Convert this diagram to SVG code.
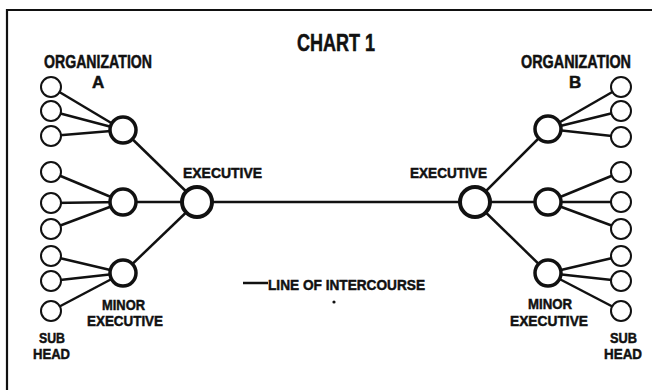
<svg xmlns="http://www.w3.org/2000/svg" width="663" height="390" viewBox="0 0 663 390">
<style>
.t{font-family:"Liberation Sans",Arial,sans-serif;font-weight:bold;fill:#111;stroke:#111;stroke-width:0.5}
.sub{fill:#fff;stroke:#111;stroke-width:2}
.min{fill:#fff;stroke:#111;stroke-width:3.5}
.exe{fill:#fff;stroke:#111;stroke-width:4}
.ln{stroke:#111;stroke-width:2.5;fill:none}
</style>
<rect width="663" height="390" fill="#fff"/>
<path d="M7 390 V10 H652" fill="none" stroke="#111" stroke-width="2.2"/>
<g id="connectors" class="ln">
<line x1="197" y1="202" x2="475" y2="202"/>
<line x1="197" y1="202" x2="123" y2="130"/>
<line x1="197" y1="202" x2="123" y2="202"/>
<line x1="197" y1="202" x2="123" y2="273"/>
<line x1="123" y1="130" x2="51" y2="87"/>
<line x1="123" y1="130" x2="51" y2="111"/>
<line x1="123" y1="130" x2="51" y2="136"/>
<line x1="123" y1="202" x2="51" y2="172"/>
<line x1="123" y1="202" x2="51" y2="203"/>
<line x1="123" y1="202" x2="51" y2="229"/>
<line x1="123" y1="273" x2="51" y2="256"/>
<line x1="123" y1="273" x2="51" y2="281"/>
<line x1="123" y1="273" x2="51" y2="311"/>
<line x1="475" y1="202" x2="548" y2="129"/>
<line x1="475" y1="202" x2="548" y2="202"/>
<line x1="475" y1="202" x2="548" y2="273"/>
<line x1="548" y1="129" x2="621" y2="87"/>
<line x1="548" y1="129" x2="621" y2="111"/>
<line x1="548" y1="129" x2="621" y2="137"/>
<line x1="548" y1="202" x2="621" y2="172"/>
<line x1="548" y1="202" x2="621" y2="202"/>
<line x1="548" y1="202" x2="621" y2="229"/>
<line x1="548" y1="273" x2="621" y2="256"/>
<line x1="548" y1="273" x2="621" y2="281"/>
<line x1="548" y1="273" x2="621" y2="311"/>
<line x1="243" y1="283" x2="268" y2="283"/>
</g>
<g id="title"><text class="t" x="297" y="51" font-size="24" textLength="78" lengthAdjust="spacingAndGlyphs">CHART 1</text></g>
<g id="orgA-label"><text class="t" x="44" y="68" font-size="18" textLength="108" lengthAdjust="spacingAndGlyphs">ORGANIZATION</text><text class="t" x="92" y="88" font-size="17">A</text></g>
<g id="orgB-label"><text class="t" x="521" y="68" font-size="18" textLength="110" lengthAdjust="spacingAndGlyphs">ORGANIZATION</text><text class="t" x="569" y="88" font-size="17">B</text></g>
<g id="execA"><circle class="exe" cx="197" cy="202" r="15"/><text class="t" x="183" y="178" font-size="15.5" textLength="79" lengthAdjust="spacingAndGlyphs">EXECUTIVE</text></g>
<g id="execB"><circle class="exe" cx="475" cy="202" r="15"/><text class="t" x="410" y="178" font-size="15.5" textLength="77" lengthAdjust="spacingAndGlyphs">EXECUTIVE</text></g>
<g id="minorA1"><circle class="min" cx="123" cy="130" r="13"/></g>
<g id="minorA2"><circle class="min" cx="123" cy="202" r="13"/></g>
<g id="minorA3"><circle class="min" cx="123" cy="273" r="13"/><text class="t" x="102" y="310" font-size="15.5" textLength="43" lengthAdjust="spacingAndGlyphs">MINOR</text><text class="t" x="87" y="326" font-size="15.5" textLength="76" lengthAdjust="spacingAndGlyphs">EXECUTIVE</text></g>
<g id="minorB1"><circle class="min" cx="548" cy="129" r="13"/></g>
<g id="minorB2"><circle class="min" cx="548" cy="202" r="13"/></g>
<g id="minorB3"><circle class="min" cx="548" cy="273" r="13"/><text class="t" x="528" y="309" font-size="15.5" textLength="44" lengthAdjust="spacingAndGlyphs">MINOR</text><text class="t" x="510" y="326" font-size="15.5" textLength="78" lengthAdjust="spacingAndGlyphs">EXECUTIVE</text></g>
<g id="subA">
<circle class="sub" cx="51" cy="87" r="10"/><circle class="sub" cx="51" cy="111" r="10"/><circle class="sub" cx="51" cy="136" r="10"/>
<circle class="sub" cx="51" cy="172" r="10"/><circle class="sub" cx="51" cy="203" r="10"/><circle class="sub" cx="51" cy="229" r="10"/>
<circle class="sub" cx="51" cy="256" r="10"/><circle class="sub" cx="51" cy="281" r="10"/><circle class="sub" cx="51" cy="311" r="10"/>
<text class="t" x="39" y="343" font-size="15.5" textLength="26" lengthAdjust="spacingAndGlyphs">SUB</text><text class="t" x="33" y="359" font-size="15.5" textLength="37" lengthAdjust="spacingAndGlyphs">HEAD</text>
</g>
<g id="subB">
<circle class="sub" cx="621" cy="87" r="10"/><circle class="sub" cx="621" cy="111" r="10"/><circle class="sub" cx="621" cy="137" r="10"/>
<circle class="sub" cx="621" cy="172" r="10"/><circle class="sub" cx="621" cy="202" r="10"/><circle class="sub" cx="621" cy="229" r="10"/>
<circle class="sub" cx="621" cy="256" r="10"/><circle class="sub" cx="621" cy="281" r="10"/><circle class="sub" cx="621" cy="311" r="10"/>
<text class="t" x="610" y="343" font-size="15.5" textLength="27" lengthAdjust="spacingAndGlyphs">SUB</text><text class="t" x="604" y="359" font-size="15.5" textLength="38" lengthAdjust="spacingAndGlyphs">HEAD</text>
</g>
<g id="legend"><text class="t" x="268" y="290" font-size="15.5" textLength="157" lengthAdjust="spacingAndGlyphs">LINE OF INTERCOURSE</text><circle cx="334" cy="302" r="1.6" fill="#111"/></g>
</svg>
